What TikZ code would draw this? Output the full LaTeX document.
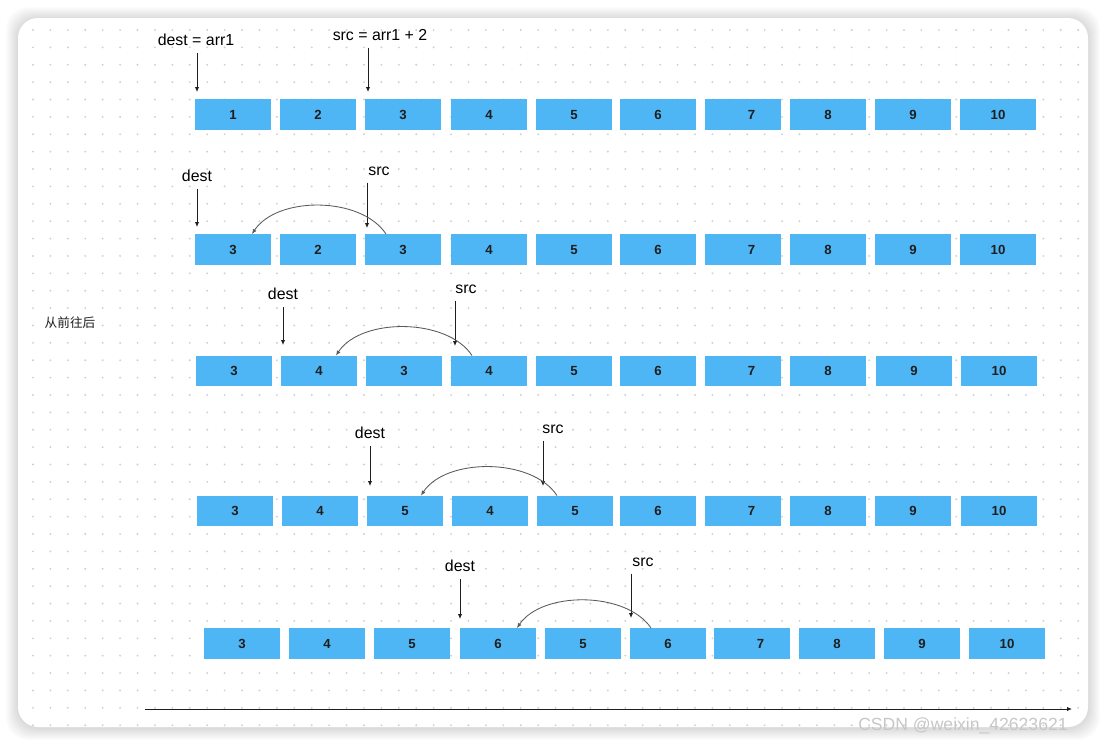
\documentclass[tikz,border=0pt]{standalone}
\usepackage{fontspec}
\setmainfont{Liberation Sans}
\newfontfamily\cjk{Noto Sans CJK SC}
\usetikzlibrary{arrows.meta,calc}
\definecolor{cellblue}{RGB}{78,182,245}
\definecolor{dotgray}{RGB}{208,208,208}
\definecolor{inkdark}{RGB}{30,30,30}

\begin{document}
\begin{tikzpicture}[x=0.025cm, y=-0.025cm,
    cell/.style={fill=cellblue, minimum width=1.9cm, minimum height=0.76cm, inner sep=0pt,
      text height=6.8pt, text depth=0pt,
      font=\fontsize{9.4}{11}\selectfont\bfseries, text=inkdark},
    lbl/.style={inner sep=0pt, font=\fontsize{11.3}{13}\selectfont, text=black},
    ptr/.style={draw=inkdark, line width=0.6pt, shorten <=5pt, -{Latex[length=3.5pt,width=3pt]}},
    hop/.style={draw=black!65, line width=0.6pt, -{Latex[length=3.5pt,width=3pt]}}]
    \useasboundingbox (0,0) rectangle (1106,745);

    % card with a soft shadow
    \foreach \s in {1,...,12}
        \fill[black, opacity=0.012, rounded corners=0.55cm] (18-\s,18-\s+1) rectangle (1088+\s,727+\s+1);
    \fill[white, rounded corners=0.5cm] (18,18) rectangle (1088,727);

    % dot grid
    \begin{scope}
        \clip[rounded corners=0.5cm] (18,18) rectangle (1088,727);
        \foreach \i in {0,...,60}
            \foreach \j in {0,...,40}
                \fill[dotgray] (33+17.42*\i, 30+17.38*\j) circle (0.75pt);
    \end{scope}

    \node[font=\cjk\fontsize{9}{11}\selectfont, text=inkdark] (dirnote) at (70,323) {从前往后};

    % row 1: start
    \foreach \cx/\v [count=\k] in {233/1,318/2,403/3,489/4,574/5,658/6,743/{\kern12pt 7},828/8,913/9,998/10}
        \node[cell] (r1b\k) at (\cx,114.5) {\v};
    \node[lbl] (dest1) at (196,40) {dest = arr1};
    \node[lbl] (src1) at (380,35) {src = arr1 + 2};
    \coordinate (dtip1) at (197,92);
    \coordinate (stip1) at (368,92);
    \draw[ptr] (dest1.south -| dtip1) -- (dtip1); % dest
    \draw[ptr] (src1.south -| stip1) -- (stip1); % src

    % row 2
    \foreach \cx/\v [count=\k] in {233/3,318/2,403/3,489/4,574/5,658/6,743/{\kern12pt 7},828/8,913/9,998/10}
        \node[cell] (r2b\k) at (\cx,249.5) {\v};
    \node[lbl] (dest2) at (197,176) {dest};
    \node[lbl] (src2) at (379,171) {src};
    \coordinate (dtip2) at (197,227);
    \coordinate (stip2) at (367,228);
    \draw[ptr] (dest2.south -| dtip2) -- (dtip2);
    \draw[ptr] (src2.south -| stip2) -- (stip2);
    \draw[hop] ($(r2b3.north)+(-17,0)$) .. controls +(-25,-38) and +(25,-38) .. ($(r2b1.north)+(19,0)$); % 3 -> 1

    % row 3
    \foreach \cx/\v [count=\k] in {234/3,319/4,404/3,489/4,574/5,658/6,743/{\kern12pt 7},828/8,914/9,999/10}
        \node[cell] (r3b\k) at (\cx,371) {\v};
    \node[lbl] (dest3) at (283,294) {dest};
    \node[lbl] (src3) at (466,289) {src};
    \coordinate (dtip3) at (283,345);
    \coordinate (stip3) at (455,346);
    \draw[ptr] (dest3.south -| dtip3) -- (dtip3);
    \draw[ptr] (src3.south -| stip3) -- (stip3);
    \draw[hop] ($(r3b4.north)+(-17,0)$) .. controls +(-25,-38) and +(25,-38) .. ($(r3b2.north)+(17,0)$); % 4 -> 2

    % row 4
    \foreach \cx/\v [count=\k] in {235/3,320/4,405/5,490/4,575/5,658/6,743/{\kern12pt 7},828/8,913/9,999/10}
        \node[cell] (r4b\k) at (\cx,511) {\v};
    \node[lbl] (dest4) at (370,433) {dest};
    \node[lbl] (src4) at (553,429) {src};
    \coordinate (dtip4) at (370,486);
    \coordinate (stip4) at (543,486);
    \draw[ptr] (dest4.south -| dtip4) -- (dtip4);
    \draw[ptr] (src4.south -| stip4) -- (stip4);
    \draw[hop] ($(r4b5.north)+(-18,0)$) .. controls +(-25,-38) and +(25,-38) .. ($(r4b3.north)+(16,0)$); % 5 -> 3

    % row 5
    \foreach \cx/\v [count=\k] in {242/3,327/4,412/5,498/6,583/5,668/6,752/{\kern12pt 7},837/8,922/9,1007/10}
        \node[cell] (r5b\k) at (\cx,643.5) {\v};
    \node[lbl] (dest5) at (460,566) {dest};
    \node[lbl] (src5) at (643,562) {src};
    \coordinate (dtip5) at (460,619);
    \coordinate (stip5) at (631,618);
    \draw[ptr] (dest5.south -| dtip5) -- (dtip5);
    \draw[ptr] (src5.south -| stip5) -- (stip5);
    \draw[hop] ($(r5b6.north)+(-17,0)$) .. controls +(-25,-37) and +(25,-37) .. ($(r5b4.north)+(19,0)$); % 6 -> 4

    % time axis
    \coordinate (axisL) at (145,709);
    \coordinate (axisR) at (1072,709);
    \draw[draw=inkdark, line width=0.6pt, -{Latex[length=3.5pt,width=3pt]}] (axisL) -- (axisR);

    % watermark
    \begin{scope}
        \clip (0,0) rectangle (1086,745);
        \node[anchor=west, inner sep=0pt, text=black!22, font=\fontsize{12.5}{14}\selectfont] (mark) at (858,726) {CSDN @weixin\_42623621};
    \end{scope}
\end{tikzpicture}
\end{document}
